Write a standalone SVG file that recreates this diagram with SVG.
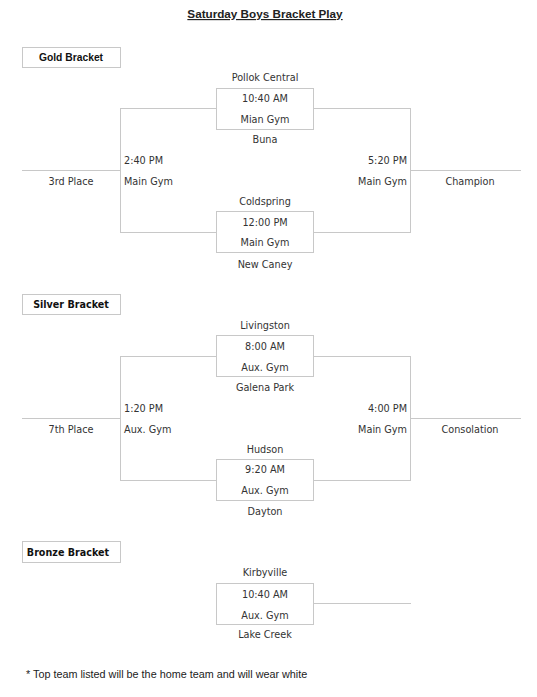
<svg xmlns="http://www.w3.org/2000/svg" width="537" height="697" viewBox="0 0 537 697">
<style>
.t{font-family:"DejaVu Sans",Verdana,sans-serif;font-size:9.7px;fill:#333;text-anchor:middle}
.l{text-anchor:start}
.r{text-anchor:end}
.h{font-family:"DejaVu Sans",Verdana,sans-serif;font-size:9.6px;font-weight:bold;fill:#111;text-anchor:middle}
.hg{font-family:"Liberation Sans",Arial,sans-serif;font-size:10.3px;font-weight:bold;fill:#111;text-anchor:middle}
.box{fill:#fff;stroke:#c8c8c8;stroke-width:1}
.ln{fill:none;stroke:#c8c8c8;stroke-width:1}
</style>
<rect width="537" height="697" fill="#fff"/>
<text x="265" y="18" style="font-family:'Liberation Sans',Arial,sans-serif;font-size:11.7px;font-weight:bold;fill:#222;text-anchor:middle;text-decoration:underline">Saturday Boys Bracket Play</text>

<g id="connectors">
<path class="ln" d="M120,108.5H216M313,108.5H411M120.5,108V232M410.5,108V232M120,232.5H216M313,232.5H411M22,170.5H120M411,170.5H521"/>
<path class="ln" d="M120,356.5H216M313,356.5H411M120.5,356V480M410.5,356V480M120,480.5H216M313,480.5H411M22,418.5H120M411,418.5H521"/>
<path class="ln" d="M313,603.5H411"/>
</g>

<g id="gold-label"><rect class="box" x="22.5" y="47.5" width="98" height="20"/><text class="hg" x="71" y="61">Gold Bracket</text></g>
<g id="gold-g1"><rect class="box" x="216.5" y="88.5" width="97" height="41"/>
<text class="t" x="265" y="81">Pollok Central</text><text class="t" x="265" y="102">10:40 AM</text><text class="t" x="265" y="123">Mian Gym</text><text class="t" x="265" y="143">Buna</text></g>
<g id="gold-g2"><rect class="box" x="216.5" y="211.5" width="97" height="41"/>
<text class="t" x="265" y="205">Coldspring</text><text class="t" x="265" y="226">12:00 PM</text><text class="t" x="265" y="246">Main Gym</text><text class="t" x="265" y="268">New Caney</text></g>
<g id="gold-3rd"><text class="t l" x="124" y="164">2:40 PM</text><text class="t l" x="124" y="185">Main Gym</text><text class="t" x="71" y="185">3rd Place</text></g>
<g id="gold-final"><text class="t r" x="407" y="164">5:20 PM</text><text class="t r" x="407" y="185">Main Gym</text><text class="t" x="470" y="185">Champion</text></g>

<g id="silver-label"><rect class="box" x="22.5" y="294.5" width="98" height="20"/><text class="h" x="71" y="308">Silver Bracket</text></g>
<g id="silver-g1"><rect class="box" x="216.5" y="335.5" width="97" height="41"/>
<text class="t" x="265" y="329">Livingston</text><text class="t" x="265" y="350">8:00 AM</text><text class="t" x="265" y="371">Aux. Gym</text><text class="t" x="265" y="391">Galena Park</text></g>
<g id="silver-g2"><rect class="box" x="216.5" y="459.5" width="97" height="41"/>
<text class="t" x="265" y="453">Hudson</text><text class="t" x="265" y="473">9:20 AM</text><text class="t" x="265" y="494">Aux. Gym</text><text class="t" x="265" y="515">Dayton</text></g>
<g id="silver-7th"><text class="t l" x="124" y="412">1:20 PM</text><text class="t l" x="124" y="433">Aux. Gym</text><text class="t" x="71" y="433">7th Place</text></g>
<g id="silver-final"><text class="t r" x="407" y="412">4:00 PM</text><text class="t r" x="407" y="433">Main Gym</text><text class="t" x="470" y="433">Consolation</text></g>

<g id="bronze-label"><rect class="box" x="22.5" y="541.5" width="98" height="21"/><text class="h" x="68" y="556">Bronze Bracket</text></g>
<g id="bronze-g1"><rect class="box" x="216.5" y="583.5" width="97" height="41"/>
<text class="t" x="265" y="576">Kirbyville</text><text class="t" x="265" y="598">10:40 AM</text><text class="t" x="265" y="619">Aux. Gym</text><text class="t" x="265" y="638">Lake Creek</text></g>

<text x="26" y="678" style="font-family:'Liberation Sans',Arial,sans-serif;font-size:10.8px;fill:#222">* Top team listed will be the home team and will wear white</text>
</svg>
